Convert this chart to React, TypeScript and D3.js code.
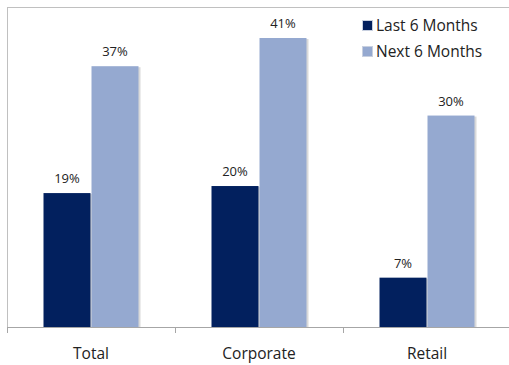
import React from "react";
import * as d3 from "d3";

const categories = ["Total", "Corporate", "Retail"];
const seriesNames = ["Last 6 Months", "Next 6 Months"];
const lastSix = [0.19, 0.2, 0.07];
const nextSix = [0.37, 0.41, 0.3];
const seriesColors = ["#02205e", "#95a9d0"];

const W = 509;
const H = 365;
const FONT = "'Open Sans', 'Noto Sans', sans-serif";

export default function App() {
  const left = 7;
  const top = 7;
  const baseline = 327;
  const x = d3.scaleBand<string>().domain(categories).range([left, left + 168 * 3]).paddingInner(0).paddingOuter(0);
  const y = d3.scaleLinear().domain([0, 0.454]).range([baseline, top]);
  const series = [lastSix, nextSix];
  const barW = 47;
  const gap = 1;
  const fmt = d3.format(".0%");

  return (
    <svg width={W} height={H} style={{ position: "absolute", left: 0, top: 0 }} fontFamily={FONT}>
      <rect x={0} y={0} width={W} height={H} fill="#fff" />
      <line x1={left} x2={W} y1={top + 0.5} y2={top + 0.5} stroke="#c0c0c0" />
      <line x1={left + 0.5} x2={left + 0.5} y1={top} y2={baseline} stroke="#c0c0c0" />
      {categories.map((c, i) => {
        const center = (x(c) as number) + x.bandwidth() / 2;
        const groupStart = center - barW - gap / 2;
        return (
          <g key={c}>
            {series.map((s, j) => {
              const bx = groupStart + j * (barW + gap);
              const by = y(s[i]);
              return (
                <g key={j}>
                  <rect x={bx + 1} y={by + 1} width={barW + 1} height={baseline - by - 1} fill="#d9d9d9" />
                  <rect x={bx} y={by} width={barW} height={baseline - by} fill={seriesColors[j]} />
                  <text x={bx + barW / 2} y={by - 10} textAnchor="middle" fontSize={13} fill="#222">
                    {fmt(s[i])}
                  </text>
                </g>
              );
            })}
            <text x={center} y={359} textAnchor="middle" fontSize={15.5} fill="#222">
              {c}
            </text>
          </g>
        );
      })}
      <line x1={left} x2={W} y1={baseline + 0.5} y2={baseline + 0.5} stroke="#a6a6a6" />
      {[0, 1, 2].map((k) => {
        const tx = left + k * x.bandwidth() + 0.5;
        return <line key={k} x1={tx} x2={tx} y1={baseline} y2={baseline + 6} stroke="#a6a6a6" />;
      })}
      {seriesNames.map((n, j) => (
        <g key={n} transform={`translate(362, ${20 + j * 26})`}>
          <rect x={0.5} y={0.5} width={10} height={10} fill={seriesColors[j]} stroke="#c8d0e0" />
          <text x={14} y={10.5} fontSize={15.5} fill="#222">
            {n}
          </text>
        </g>
      ))}
    </svg>
  );
}
